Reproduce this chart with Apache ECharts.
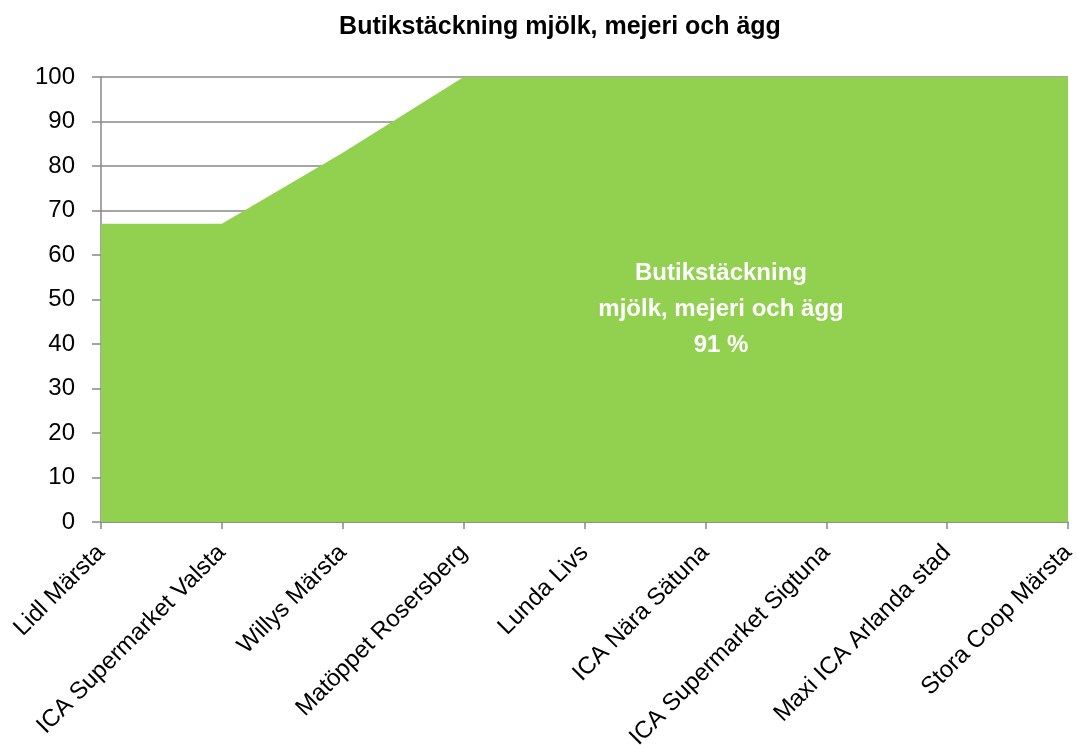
<!DOCTYPE html>
<html>
<head>
<meta charset="utf-8">
<script src="https://cdn.jsdelivr.net/npm/echarts@6/dist/echarts.min.js"></script>
<style>
  html, body { margin: 0; padding: 0; background: #fff; }
  #chart { width: 1077px; height: 745px; }
</style>
</head>
<body>
<div id="chart"></div>
<script>
var stores = ['Lidl Märsta', 'ICA Supermarket Valsta', 'Willys Märsta', 'Matöppet Rosersberg',
  'Lunda Livs', 'ICA Nära Sätuna', 'ICA Supermarket Sigtuna', 'Maxi ICA Arlanda stad', 'Stora Coop Märsta']
var coverage = [67, 67, 83, 100, 100, 100, 100, 100, 100]
var titleText = 'Butikstäckning mjölk, mejeri och ägg'
var noteLines = ['Butikstäckning', 'mjölk, mejeri och ägg', '91 %']

var myChart = echarts.init(document.getElementById('chart'))
var font = '"Liberation Sans", Arial, sans-serif'
var option = {
  animation: false,
  title: {
    text: titleText,
    left: 555,
    textAlign: 'center',
    top: 10,
    textStyle: { fontFamily: font, fontSize: 25, fontWeight: 'bold', color: '#000' }
  },
  // etikett i ytan
  graphic: [{
    type: 'text',
    z: 100,
    x: 721,
    y: 255,
    style: {
      text: noteLines.join('\n'),
      align: 'center',
      verticalAlign: 'top',
      fill: '#fff',
      font: 'bold 24px ' + font,
      lineHeight: 36
    }
  }],
  grid: { left: 101, right: 9, top: 77, bottom: 223, containLabel: false, outerBoundsMode: 'none' },
  xAxis: {
    type: 'category',
    boundaryGap: false,
    data: stores,
    axisLine: { lineStyle: { color: '#888', width: 1.5 } },
    axisTick: { show: true, length: 7, lineStyle: { color: '#888', width: 1.5 } },
    axisLabel: {
      interval: 0,
      rotate: 45,
      margin: 27,
      color: '#000',
      fontFamily: font,
      fontSize: 24
    },
    splitLine: { show: false }
  },
  yAxis: {
    type: 'value',
    min: 0,
    max: 100,
    interval: 10,
    axisLine: { show: true, lineStyle: { color: '#888', width: 1.5 } },
    axisTick: { show: true, length: 9, lineStyle: { color: '#888', width: 1.5 } },
    axisLabel: { color: '#000', fontFamily: font, fontSize: 24, margin: 26 },
    splitLine: { lineStyle: { color: '#888', width: 1.5 } }
  },
  series: [{
    type: 'line',
    data: coverage,
    symbol: 'none',
    lineStyle: { width: 0 },
    areaStyle: { color: '#92D050', opacity: 1 },
    z: 3
  }]
}
myChart.setOption(option)
window.addEventListener('resize', function () {
  myChart.resize()
})
</script>
</body>
</html>
